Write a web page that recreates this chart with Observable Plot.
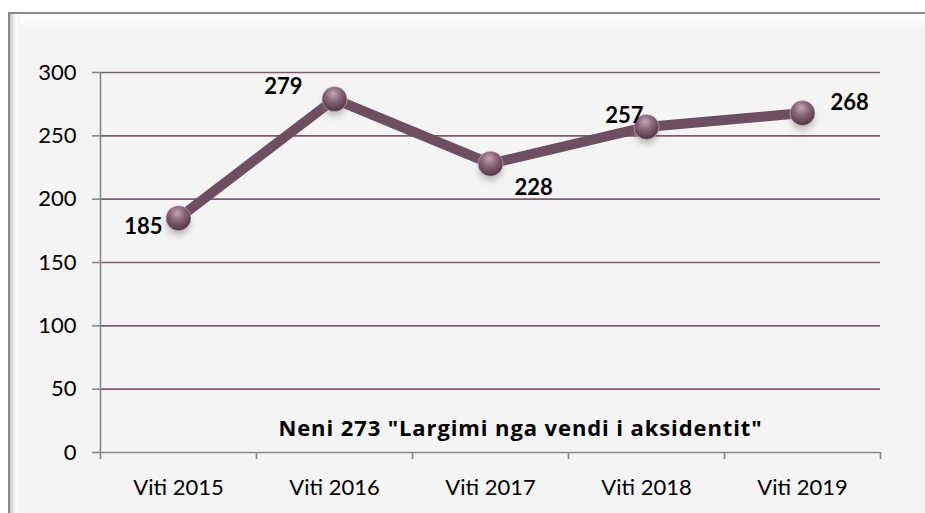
<!DOCTYPE html>
<html>
<head>
<meta charset="utf-8">
<script src="https://cdn.jsdelivr.net/npm/d3@7"></script>
<script src="https://cdn.jsdelivr.net/npm/@observablehq/plot@0.6"></script>
<style>
  html, body { margin: 0; padding: 0; background: #ffffff; }
  #wrap { position: relative; width: 925px; height: 513px; overflow: hidden; }
  #frame {
    position: absolute; left: 8px; top: 12px; width: 930px; height: 520px;
    background: #f4f4f4;
    border-top: 2px solid #8a8a8a; border-left: 2px solid #8a8a8a;
  }
  #bevel-top {
    position: absolute; left: 0; top: 0; right: 0; height: 13px;
    background: linear-gradient(#ffffff, #fbfbfb 70%, #f4f4f4);
  }
  #bevel-left {
    position: absolute; left: 0; top: 0; bottom: 0; width: 10px;
    background: linear-gradient(90deg, #c4c4c4, #e6e6e6 30%, #fbfbfb 60%, #f4f4f4);
  }
  #chart { position: absolute; left: 0; top: 0; }
  .chart-title text { letter-spacing: 0.9px; }
</style>
</head>
<body>
<div id="wrap">
  <div id="frame"><div id="bevel-top"></div><div id="bevel-left"></div></div>
  <div id="chart"></div>
</div>
<script>
// Cases per year under article 273
const years = ["Viti 2015", "Viti 2016", "Viti 2017", "Viti 2018", "Viti 2019"];
const cases = [185, 279, 228, 257, 268];
const yTicks = [0, 50, 100, 150, 200, 250, 300];
const title = "Neni 273 \"Largimi nga vendi i aksidentit\"";

const data = years.map((year, i) => ({year, value: cases[i], pos: i + 0.5}));

const font = "Lato, 'Open Sans', sans-serif";
const boldFont = "'Open Sans', Lato, sans-serif";
const gray = "#878787";
const grid = "#7e5b70";
const lineColor = "#6e4e61";

// value labels, each placed around its marker
const labelPlacement = [
  {textAnchor: "end", dx: -16, dy: 9},
  {textAnchor: "end", dx: -32, dy: -12},
  {textAnchor: "start", dx: 24, dy: 24},
  {textAnchor: "end", dx: -3, dy: -11},
  {textAnchor: "start", dx: 28, dy: -10}
];

const labelMarks = data.map((d, i) => Plot.text([d], {
  x: "pos", y: "value", text: d => String(d.value),
  fontWeight: "bold", fontSize: 22, fill: "#000",
  ...labelPlacement[i]
}));

const chart = Plot.plot({
  width: 925,
  height: 513,
  marginLeft: 100,
  marginRight: 45,
  marginTop: 72,
  marginBottom: 61,
  style: {background: "transparent", fontFamily: font, fontSize: "22px", color: "#000"},
  x: {domain: [0, years.length]},
  y: {domain: [0, 300]},
  marks: [
    Plot.gridY(yTicks.filter(v => v > 0), {stroke: grid, strokeOpacity: 1, strokeWidth: 1.6}),
    Plot.axisY({ticks: yTicks, tickSize: 8, tickPadding: 16, stroke: gray, strokeWidth: 1.6, fill: "#000", fontSize: 22, label: null}),
    Plot.axisX({ticks: d3.range(years.length + 1), tickSize: 7, tickFormat: () => "", stroke: gray, strokeWidth: 1.6, label: null}),
    Plot.axisX({ticks: data.map(d => d.pos), tickSize: 0, tickPadding: 27, tickFormat: v => years[Math.round(v - 0.5)], fill: "#000", fontSize: 22, label: null}),
    Plot.ruleX([0], {stroke: gray, strokeWidth: 1.6}),
    Plot.ruleY([0], {stroke: gray, strokeWidth: 1.6}),
    Plot.text([title], {frameAnchor: "bottom", dx: 30, dy: -17, fontWeight: "bold", fontSize: 22, fontFamily: boldFont, fill: "#000", className: "chart-title"}),
    Plot.line(data, {x: "pos", y: "value", stroke: lineColor, strokeWidth: 10, strokeLinejoin: "round"}),
    Plot.dot(data, {x: "pos", y: "value", r: 12, dy: 5, fill: "#777", fillOpacity: 0.45, stroke: "none", className: "ball-shadow"}),
    Plot.dot(data, {x: "pos", y: "value", r: 12.5, fill: "url(#ball)", stroke: "#e9c9dc", strokeOpacity: 0.5, strokeWidth: 1}),
    ...labelMarks
  ]
});

// sphere shading and soft shadow for the markers
const svg = d3.select(chart);
const defs = svg.insert("defs", ":first-child");
const g = defs.append("radialGradient").attr("id", "ball").attr("cx", "45%").attr("cy", "35%").attr("r", "65%").attr("fx", "45%").attr("fy", "28%");
g.append("stop").attr("offset", "0%").attr("stop-color", "#c3a6b7");
g.append("stop").attr("offset", "45%").attr("stop-color", "#8a6779");
g.append("stop").attr("offset", "100%").attr("stop-color", "#4f3444");
defs.append("filter").attr("id", "blur").attr("x", "-50%").attr("y", "-50%").attr("width", "200%").attr("height", "200%")
  .append("feGaussianBlur").attr("stdDeviation", 3);
svg.selectAll(".ball-shadow circle").attr("filter", "url(#blur)");

document.getElementById("chart").appendChild(chart);
</script>
</body>
</html>
